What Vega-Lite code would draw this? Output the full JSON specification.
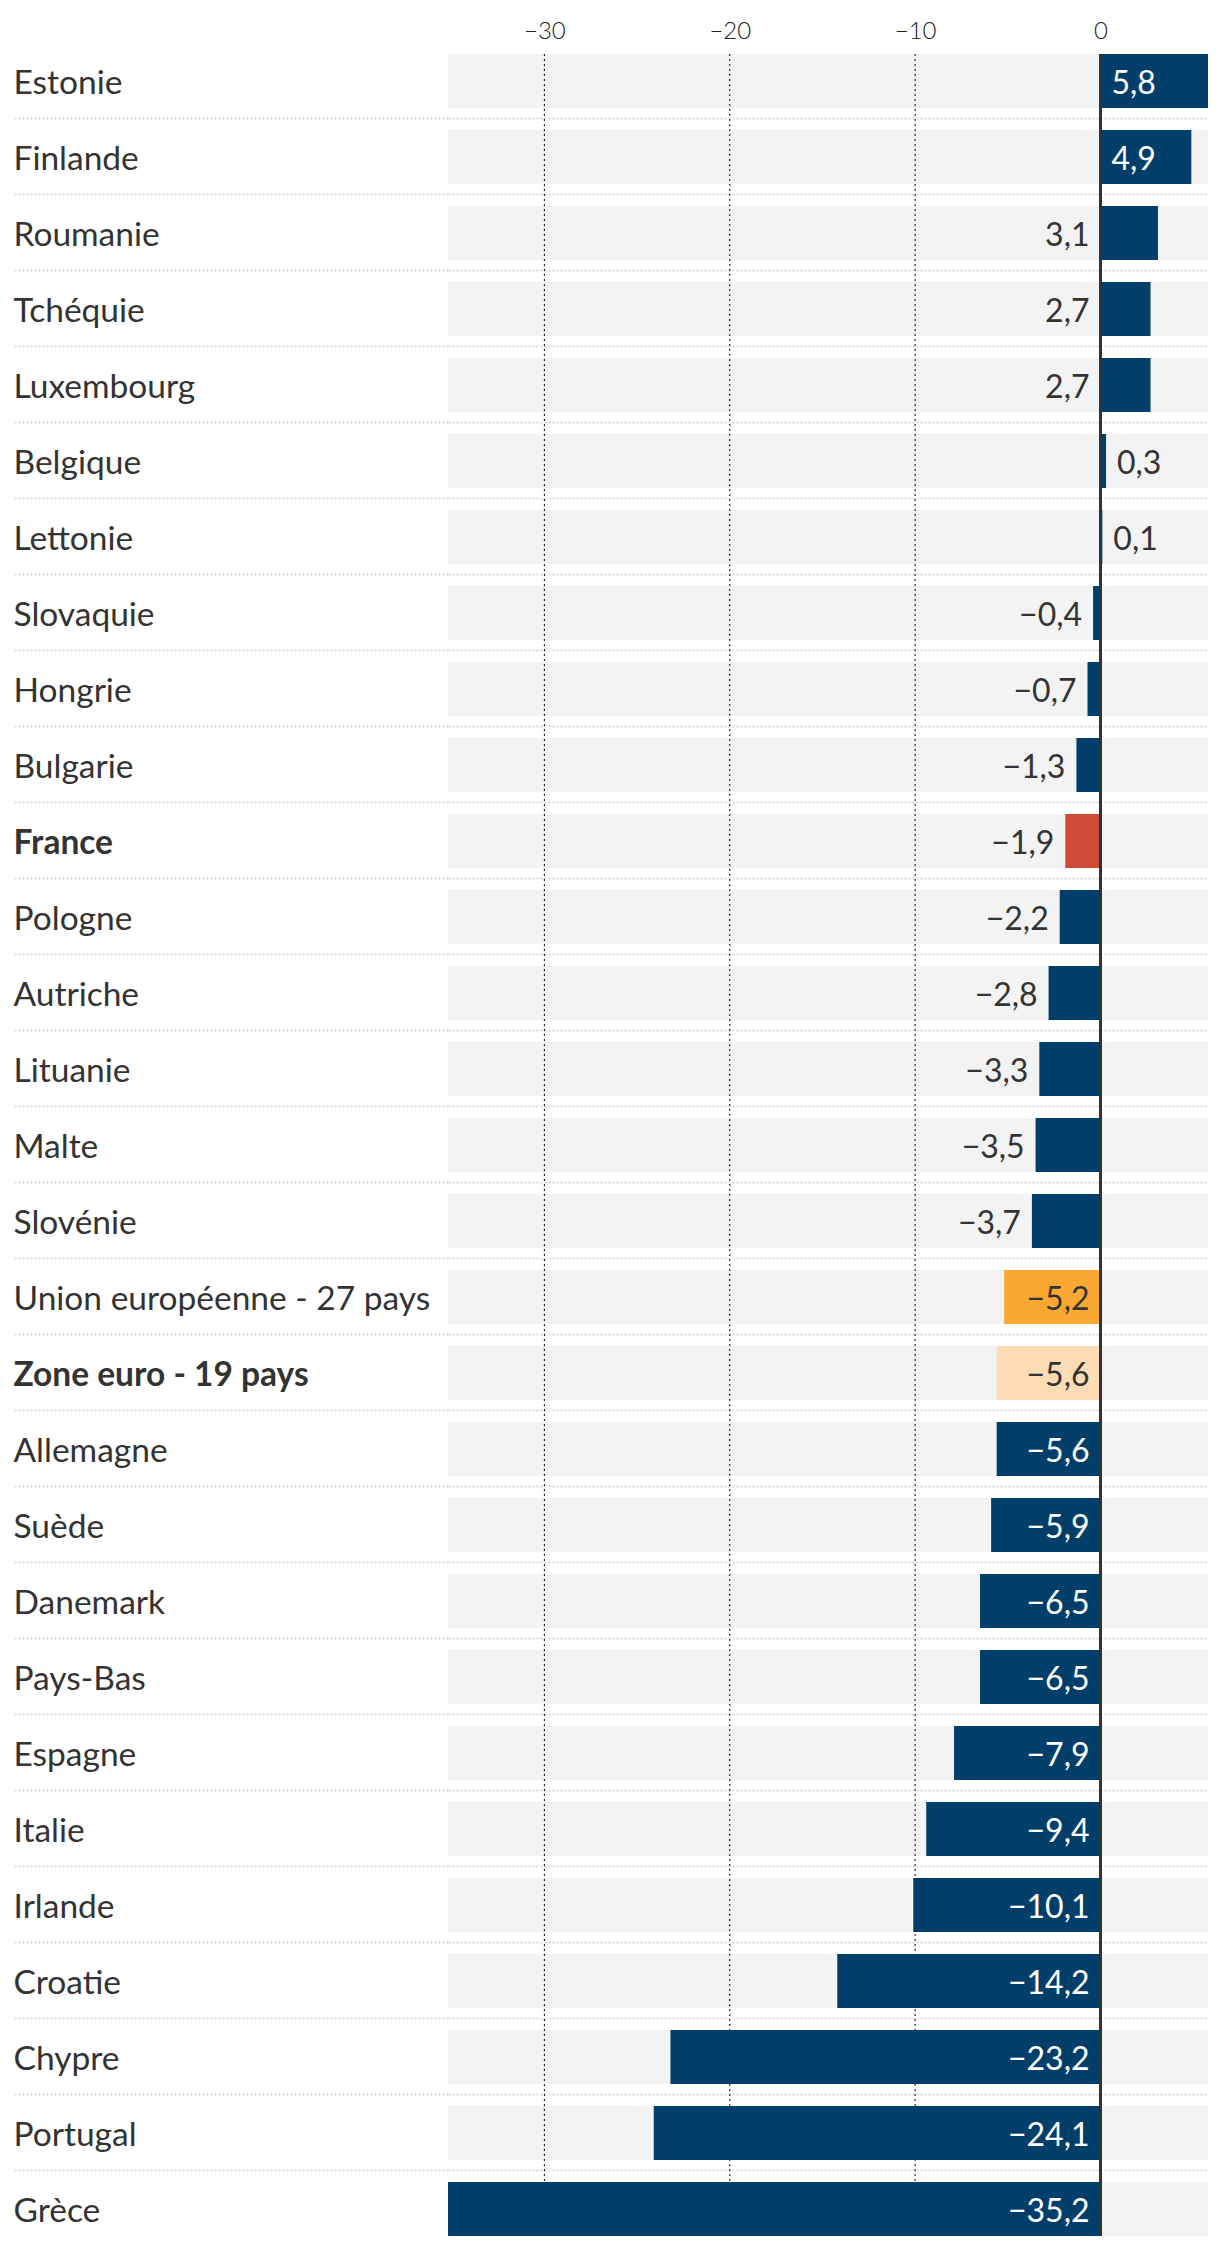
{
  "$schema": "https://vega.github.io/schema/vega-lite/v6.json",
  "width": 760,
  "height": 2182,
  "autosize": {"type": "none"},
  "padding": {"left": 448, "top": 54, "right": 12, "bottom": 12},
  "background": "#ffffff",
  "config": {
    "view": {"stroke": null},
    "font": "Lato",
    "locale": {"number": {"decimal": ",", "thousands": "\u00a0", "grouping": [3], "currency": ["", "\u00a0€"]}}
  },
  "data": {"values": [
    {"country": "Estonie", "value": 5.8, "group": "pays"},
    {"country": "Finlande", "value": 4.9, "group": "pays"},
    {"country": "Roumanie", "value": 3.1, "group": "pays"},
    {"country": "Tchéquie", "value": 2.7, "group": "pays"},
    {"country": "Luxembourg", "value": 2.7, "group": "pays"},
    {"country": "Belgique", "value": 0.3, "group": "pays"},
    {"country": "Lettonie", "value": 0.1, "group": "pays"},
    {"country": "Slovaquie", "value": -0.4, "group": "pays"},
    {"country": "Hongrie", "value": -0.7, "group": "pays"},
    {"country": "Bulgarie", "value": -1.3, "group": "pays"},
    {"country": "France", "value": -1.9, "group": "France"},
    {"country": "Pologne", "value": -2.2, "group": "pays"},
    {"country": "Autriche", "value": -2.8, "group": "pays"},
    {"country": "Lituanie", "value": -3.3, "group": "pays"},
    {"country": "Malte", "value": -3.5, "group": "pays"},
    {"country": "Slovénie", "value": -3.7, "group": "pays"},
    {"country": "Union européenne - 27 pays", "value": -5.2, "group": "UE"},
    {"country": "Zone euro - 19 pays", "value": -5.6, "group": "Zone euro"},
    {"country": "Allemagne", "value": -5.6, "group": "pays"},
    {"country": "Suède", "value": -5.9, "group": "pays"},
    {"country": "Danemark", "value": -6.5, "group": "pays"},
    {"country": "Pays-Bas", "value": -6.5, "group": "pays"},
    {"country": "Espagne", "value": -7.9, "group": "pays"},
    {"country": "Italie", "value": -9.4, "group": "pays"},
    {"country": "Irlande", "value": -10.1, "group": "pays"},
    {"country": "Croatie", "value": -14.2, "group": "pays"},
    {"country": "Chypre", "value": -23.2, "group": "pays"},
    {"country": "Portugal", "value": -24.1, "group": "pays"},
    {"country": "Grèce", "value": -35.2, "group": "pays"}
  ]},
  "encoding": {
    "y": {
      "field": "country", "type": "nominal", "sort": null,
      "scale": {"paddingInner": 0.2895, "paddingOuter": 0},
      "axis": {
        "title": null, "domain": false,
        "ticks": true, "tickSize": 436, "tickWidth": 2, "tickDash": [2, 2],
        "tickColor": {"condition": {"test": "datum.value == 'Grèce'", "value": "transparent"}, "value": "#d9d9d9"},
        "grid": true, "gridWidth": 2, "gridDash": [2, 2],
        "gridColor": {"condition": {"test": "datum.value == 'Grèce'", "value": "transparent"}, "value": "#d9d9d9"},
        "bandPosition": 1.2037,
        "labelAlign": "left", "labelPadding": -1, "labelOffset": 3, "labelFont": "Lato", "labelFontSize": 33.5,
        "labelColor": "#333333", "labelLimit": 500,
        "labelFontWeight": {"condition": {"test": "datum.value == 'France' || datum.value == 'Zone euro - 19 pays'", "value": "bold"}, "value": "normal"}
      }
    }
  },
  "layer": [
    {
      "mark": {"type": "bar", "color": "#f3f3f3"},
      "encoding": {
        "x": {"datum": -35.2, "type": "quantitative",
          "scale": {"domain": [-35.2, 5.8], "nice": false, "zero": false},
          "axis": {"orient": "top", "title": null, "domain": false, "ticks": false, "grid": false,
            "values": [-30, -20, -10, 0], "labelFont": "Lato", "labelFontSize": 24, "labelFontWeight": 300,
            "labelColor": "#222222", "labelPadding": 11}},
        "x2": {"datum": 5.8}
      }
    },
    {
      "data": {"values": [{"g": -30}, {"g": -20}, {"g": -10}]},
      "mark": {"type": "rule", "color": "#000000", "strokeWidth": 1, "strokeDash": [2, 3]},
      "encoding": {"x": {"field": "g", "type": "quantitative"}, "y": null}
    },
    {
      "mark": {"type": "bar"},
      "encoding": {
        "x": {"field": "value", "type": "quantitative"},
        "x2": {"datum": 0},
        "color": {"field": "group", "type": "nominal", "legend": null,
          "scale": {"domain": ["pays", "France", "UE", "Zone euro"], "range": ["#013f6a", "#d04b37", "#fba832", "#fddbb4"]}}
      }
    },
    {
      "mark": {"type": "rule", "color": "#333333", "strokeWidth": 2},
      "encoding": {"x": {"datum": 0, "type": "quantitative"}, "y": null}
    },
    {
      "transform": [{"filter": "datum.value <= -5 || (datum.value > 1 && datum.value < 4)"}],
      "mark": {"type": "text", "align": "right", "baseline": "middle", "dx": -11, "dy": 3, "font": "Lato", "fontSize": 32},
      "encoding": {
        "x": {"datum": 0, "type": "quantitative"},
        "text": {"field": "value", "type": "quantitative", "format": ".1f"},
        "color": {"condition": {"test": "datum.group == 'pays' && datum.value < 0", "value": "#ffffff"}, "value": "#333333"}
      }
    },
    {
      "transform": [{"filter": "datum.value < 0 && datum.value > -5"}],
      "mark": {"type": "text", "align": "right", "baseline": "middle", "dx": -11, "dy": 3, "font": "Lato", "fontSize": 32, "color": "#333333"},
      "encoding": {
        "x": {"field": "value", "type": "quantitative"},
        "text": {"field": "value", "type": "quantitative", "format": ".1f"}
      }
    },
    {
      "transform": [{"filter": "datum.value >= 4"}],
      "mark": {"type": "text", "align": "left", "baseline": "middle", "dx": 11, "dy": 3, "font": "Lato", "fontSize": 32, "color": "#ffffff"},
      "encoding": {
        "x": {"datum": 0, "type": "quantitative"},
        "text": {"field": "value", "type": "quantitative", "format": ".1f"}
      }
    },
    {
      "transform": [{"filter": "datum.value > 0 && datum.value < 1"}],
      "mark": {"type": "text", "align": "left", "baseline": "middle", "dx": 11, "dy": 3, "font": "Lato", "fontSize": 32, "color": "#333333"},
      "encoding": {
        "x": {"field": "value", "type": "quantitative"},
        "text": {"field": "value", "type": "quantitative", "format": ".1f"}
      }
    }
  ]
}
